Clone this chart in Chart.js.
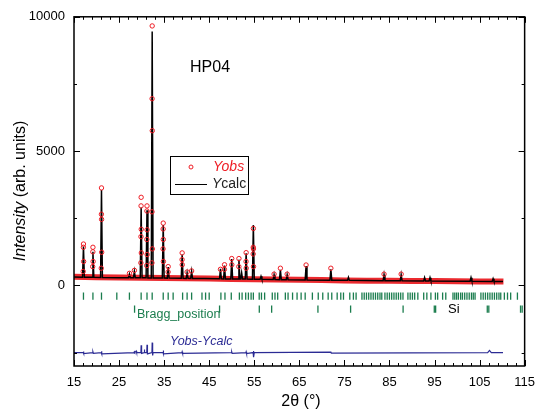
<!DOCTYPE html>
<html>
<head>
<meta charset="utf-8">
<title>HP04</title>
<script src="https://cdn.jsdelivr.net/npm/chart.js@4.4.1/dist/chart.umd.min.js"></script>
<style>
  html, body { margin: 0; padding: 0; background: #fff; }
  canvas { display: block; }
</style>
</head>
<body>
<canvas id="hp04" width="544" height="413"></canvas>
<script>
// 2theta (graus) e intensidade calculada (Ycalc)
var calcX = [15.0, 16.9, 17.1, 17.3, 19.0, 19.2, 19.4, 20.9, 21.1, 21.3, 25.0, 27.1, 27.3, 27.5, 28.2, 28.4, 28.6,
  29.7, 29.9, 30.1, 31.0, 31.2, 31.4, 32.15, 32.35, 32.55, 34.6, 34.8, 35.0, 35.7, 35.9, 36.1, 38.8, 39.0, 39.2,
  39.9, 40.1, 40.3, 40.9, 41.1, 41.3, 44.0, 47.3, 47.5, 47.7, 48.2, 48.4, 48.6, 49.8, 50.0, 50.2, 51.4, 51.6, 51.8,
  52.0, 52.2, 52.4, 53.0, 53.2, 53.4, 54.6, 54.8, 55.0, 56.3, 56.5, 56.7, 59.2, 59.4, 59.6, 60.6, 60.8, 61.0,
  62.1, 62.3, 62.5, 66.3, 66.5, 66.7, 71.8, 72.0, 72.2, 75.7, 75.9, 76.1, 83.6, 83.8, 84.0, 87.4, 87.6, 87.8,
  92.6, 92.8, 93.0, 93.8, 94.0, 94.2, 102.9, 103.1, 103.3, 107.8, 108.0, 108.2, 110.2];
var calcY = [310, 305, 1450, 305, 300, 1250, 300, 298, 3550, 298, 290, 285, 420, 285, 284, 520, 284,
  282, 2900, 282, 281, 2800, 280, 280, 9450, 280, 275, 2250, 275, 272, 680, 272, 265, 1150, 265,
  262, 470, 262, 260, 520, 260, 255, 245, 620, 245, 243, 740, 243, 240, 980, 240, 238, 960, 238,
  237, 470, 237, 235, 1200, 235, 230, 2250, 230, 226, 340, 226, 218, 400, 218, 215, 580, 215,
  212, 400, 212, 205, 720, 205, 195, 600, 195, 188, 300, 188, 175, 400, 175, 170, 400, 170,
  164, 290, 164, 163, 290, 163, 155, 290, 155, 150, 250, 150, 148];

var obsX = [17.1, 17.08, 17.14, 17.04, 19.2, 19.18, 19.24, 19.15, 21.1, 21.08, 21.12, 21.14, 21.05, 27.3, 28.4,
  29.9, 29.88, 29.92, 29.86, 29.94, 29.84, 31.2, 31.18, 31.22, 31.16, 31.24, 31.14,
  32.35, 32.33, 32.37, 32.31, 32.39, 32.29, 34.8, 34.78, 34.82, 34.76, 34.84, 35.9, 35.88,
  39.0, 38.98, 39.02, 40.1, 41.1, 47.5, 48.4, 48.38, 50.0, 50.02, 51.6, 51.58, 53.2, 53.18, 53.22,
  54.8, 54.78, 54.82, 54.76, 54.84, 59.4, 60.8, 62.3, 66.5, 72.0, 83.8, 87.6];
var obsY = [1540, 1420, 890, 520, 1420, 1250, 890, 700, 3630, 2650, 2460, 1235, 640, 450, 560,
  3280, 2960, 2090, 1815, 1210, 840, 2960, 2770, 2070, 1710, 1150, 740,
  9660, 6950, 5760, 2740, 1360, 840, 2320, 2100, 1710, 1360, 890, 700, 500,
  1210, 960, 770, 500, 540, 600, 770, 600, 1000, 770, 1000, 700, 1220, 890, 640,
  2120, 1420, 1360, 1170, 700, 420, 640, 420, 760, 640, 420, 420];

// Yobs: faixa de fundo (pontos muito densos)
var fundoX = [15, 20, 25, 30, 35, 40, 45, 50, 55, 60, 65, 70, 75, 80, 85, 90, 95, 100, 105, 110.3];
var fundoY = [320, 305, 295, 285, 278, 265, 257, 242, 232, 218, 208, 197, 187, 176, 170, 165, 160, 155, 150, 147];

// Yobs-Ycalc (ja deslocado)
var difX = [15.0, 17.05, 17.1, 17.2, 19.15, 19.2, 19.3, 21.05, 21.1, 21.2, 28.3, 28.4, 28.5, 28.8, 28.9,
  29.85, 29.9, 30.0, 30.55, 30.6, 30.7, 31.15, 31.2, 31.3, 32.3, 32.35, 32.45, 32.55, 34.75, 34.8, 34.9,
  38.95, 39.0, 39.1, 49.95, 50.0, 50.1, 53.15, 53.2, 53.3, 54.75, 54.8, 54.9, 55.0, 72.0, 72.1,
  106.8, 107.2, 107.6, 110.2];
var difY = [-2500, -2500, -2460, -2540, -2500, -2470, -2530, -2500, -2450, -2550, -2500, -2470, -2500, -2440, -2500,
  -2500, -2230, -2530, -2500, -2390, -2500, -2500, -2210, -2550, -2500, -2130, -2610, -2500, -2500, -2420, -2550,
  -2500, -2470, -2530, -2500, -2470, -2530, -2500, -2470, -2540, -2500, -2440, -2670, -2500, -2480, -2520,
  -2500, -2420, -2500, -2500];

// posicoes de Bragg
var braggFase = [17.1, 19.2, 21.1, 24.5, 27.3, 29.9, 31.2, 32.35, 34.8, 35.9, 37.0, 39.1, 40.1, 41.1, 43.4, 44.2, 45.0,
  47.6, 48.5, 49.9, 51.7, 52.3, 53.1, 53.7, 54.3, 54.8, 56.1, 56.6, 57.3, 59.0, 59.6, 60.2, 61.9, 62.5, 63.5, 64.5,
  65.4, 66.3, 67.9, 69.2, 70.2, 71.4, 72.2, 73.4, 74.2, 74.8, 76.2, 77.0, 77.6, 78.9, 79.4, 79.9, 80.4, 80.9, 81.4,
  81.9, 82.4, 82.9, 83.3, 84.0, 84.5, 85.0, 85.5, 86.0, 86.5, 87.0, 87.5, 88.0, 89.1, 89.6, 90.1, 90.6, 91.3, 92.6,
  93.3, 94.2, 95.2, 95.7, 96.8, 97.5, 99.1, 99.5, 99.9, 100.3, 100.8, 101.2, 101.7, 102.2, 102.7, 103.2, 103.6,
  104.0, 105.3, 105.8, 106.3, 106.8, 107.3, 107.8, 108.3, 108.8, 109.3, 109.7, 110.5, 111.2, 111.9, 113.4];
var braggSi = [28.44, 47.30, 56.12, 58.86, 69.13, 76.38, 88.03, 94.95, 95.25, 106.71, 107.05, 114.09, 114.45];

// eixos
var xTickValues = [15, 25, 35, 45, 55, 65, 75, 85, 95, 105, 115];
var xMinorValues = [17, 19, 21, 23, 27, 29, 31, 33, 37, 39, 41, 43, 47, 49, 51, 53, 57, 59, 61, 63, 67, 69, 71, 73,
  77, 79, 81, 83, 87, 89, 91, 93, 97, 99, 101, 103, 107, 109, 111, 113];
var yTickValues = [0, 5000, 10000];
var yMinorValues = [-2500, 2500, 7500];

var LINHA_FASE = -400;
var LINHA_SI = -880;
var FONTE = '"Liberation Sans", Arial, Helvetica, sans-serif';
var VERMELHO = "#ee1c24";
var VERDE = "#1b7d4e";
var AZUL = "#2b2b94";

function pares(xs, ys) {
  return xs.map(function (x, i) { return { x: x, y: ys[i] }; });
}
function linhaConstante(xs, y) {
  return xs.map(function (x) { return { x: x, y: y }; });
}

function escreve(ctx, partes, x, y, alinhamento) {
  var total = 0;
  partes.forEach(function (p) { ctx.font = p[1]; total += ctx.measureText(p[0]).width; });
  var inicio = x;
  if (alinhamento === "center") inicio = x - total / 2;
  ctx.textAlign = "left";
  ctx.textBaseline = "middle";
  partes.forEach(function (p) {
    ctx.font = p[1];
    ctx.fillStyle = p[2];
    ctx.fillText(p[0], inicio, y);
    inicio += ctx.measureText(p[0]).width;
  });
}

var decoracao = {
  id: "decoracao",
  afterDraw: function (chart) {
    var ctx = chart.ctx;
    var a = chart.chartArea;
    var sx = chart.scales.x, sy = chart.scales.y;
    ctx.save();
    ctx.strokeStyle = "#000";
    ctx.lineWidth = 1;
    ctx.beginPath();
    xTickValues.concat(xMinorValues).forEach(function (v) {
      var px = Math.round(sx.getPixelForValue(v)) + 0.5;
      var len = xTickValues.indexOf(v) >= 0 ? 6 : 3;
      ctx.moveTo(px, a.bottom); ctx.lineTo(px, a.bottom - len);
      ctx.moveTo(px, a.top); ctx.lineTo(px, a.top + len);
    });
    yTickValues.concat(yMinorValues).forEach(function (v) {
      var py = Math.round(sy.getPixelForValue(v)) + 0.5;
      var len = yTickValues.indexOf(v) >= 0 ? 6 : 3;
      ctx.moveTo(a.left, py); ctx.lineTo(a.left + len, py);
      ctx.moveTo(a.right, py); ctx.lineTo(a.right - len, py);
    });
    ctx.stroke();
    ctx.lineWidth = 1.5;
    ctx.strokeRect(a.left, a.top, a.right - a.left, a.bottom - a.top);

    // textos dentro do grafico
    escreve(ctx, [["HP04", "16px " + FONTE, "#000"]], 190, 68, "left");
    escreve(ctx, [["Bragg_position", "12.5px " + FONTE, VERDE]], 137, 315, "left");
    escreve(ctx, [["Si", "13px " + FONTE, "#000"]], 448, 309, "left");
    escreve(ctx, [["Yobs-Ycalc", "italic 12.5px " + FONTE, AZUL]], 170, 342, "left");

    // legenda
    ctx.lineWidth = 1;
    ctx.strokeStyle = "#000";
    ctx.strokeRect(170.5, 156.5, 78, 38);
    ctx.strokeStyle = VERMELHO;
    ctx.beginPath();
    ctx.arc(191, 167, 2, 0, Math.PI * 2);
    ctx.stroke();
    escreve(ctx, [["Yobs", "italic 14px " + FONTE, VERMELHO]], 213, 167, "left");
    ctx.strokeStyle = "#000";
    ctx.beginPath();
    ctx.moveTo(175, 184.5); ctx.lineTo(207, 184.5);
    ctx.stroke();
    escreve(ctx, [["Y", "italic 14px " + FONTE, "#222"], ["calc", "14px " + FONTE, "#222"]], 212, 184, "left");

    // titulos dos eixos
    escreve(ctx, [["2\u03b8 (\u00b0)", "16px " + FONTE, "#000"]], 301, 402, "center");
    ctx.translate(21, 191);
    ctx.rotate(-Math.PI / 2);
    escreve(ctx, [["Intensity", "italic 16px " + FONTE, "#000"], [" (arb. units)", "16px " + FONTE, "#000"]], 0, 0, "center");
    ctx.restore();
  }
};

var config = {
  type: "scatter",
  data: {
    datasets: [
      {
        label: "Yobs",
        data: pares(obsX, obsY),
        pointStyle: "circle",
        pointRadius: 2.2,
        pointBorderWidth: 1,
        pointBorderColor: VERMELHO,
        pointBackgroundColor: "rgba(0,0,0,0)",
        showLine: false,
      },
      {
        label: "Ycalc",
        data: pares(calcX, calcY),
        showLine: true,
        borderColor: "#000",
        borderWidth: 1.5,
        pointRadius: 0,
        tension: 0,
      },
      {
        label: "Yobs (fundo)",
        data: pares(fundoX, fundoY),
        showLine: true,
        borderColor: "#eb2a2f",
        borderWidth: 6,
        pointRadius: 0,
        tension: 0,
      },
      {
        label: "Yobs-Ycalc",
        data: pares(difX, difY),
        showLine: true,
        borderColor: AZUL,
        borderWidth: 1.2,
        pointRadius: 0,
        tension: 0,
      },
      {
        label: "Bragg_position",
        data: linhaConstante(braggFase, LINHA_FASE),
        pointStyle: "line",
        rotation: 90,
        pointRadius: 3.6,
        pointBorderWidth: 1.3,
        pointBorderColor: VERDE,
        showLine: false,
      },
      {
        label: "Si",
        data: linhaConstante(braggSi, LINHA_SI),
        pointStyle: "line",
        rotation: 90,
        pointRadius: 3.6,
        pointBorderWidth: 1.3,
        pointBorderColor: VERDE,
        showLine: false,
      },
    ],
  },
  options: {
    responsive: false,
    devicePixelRatio: 1,
    animation: false,
    layout: { padding: { left: 0, right: 16, top: 15, bottom: 0 } },
    plugins: {
      legend: { display: false },
      tooltip: { enabled: false },
    },
    scales: {
      x: {
        type: "linear",
        min: 15,
        max: 115,
        afterBuildTicks: function (s) { s.ticks = xTickValues.map(function (v) { return { value: v }; }); },
        afterFit: function (s) { s.height = 47; },
        ticks: {
          font: { family: FONTE, size: 13 }, color: "#000", padding: 9, maxRotation: 0, autoSkip: false,
          callback: function (v) { return String(v); },
        },
        grid: { display: false, drawTicks: false },
        border: { display: false },
      },
      y: {
        type: "linear",
        min: -3000,
        max: 10000,
        afterBuildTicks: function (s) { s.ticks = yTickValues.map(function (v) { return { value: v }; }); },
        afterFit: function (s) { s.width = 74; },
        ticks: {
          font: { family: FONTE, size: 13 }, color: "#000", padding: 9,
          callback: function (v) { return String(v); },
        },
        grid: { display: false, drawTicks: false },
        border: { display: false },
      },
    },
  },
  plugins: [decoracao],
};

var grafico = new Chart(document.getElementById("hp04"), config);
</script>
</body>
</html>
